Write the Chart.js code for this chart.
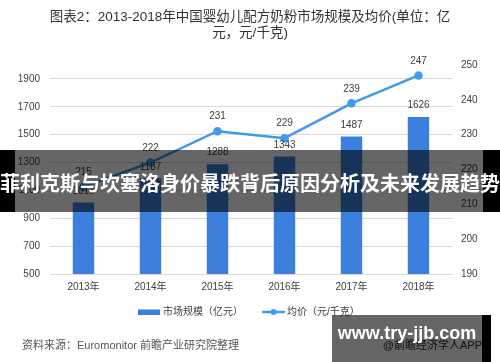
<!DOCTYPE html>
<html><head><meta charset="utf-8">
<script src="https://cdn.jsdelivr.net/npm/chart.js@4"></script>
<style>
html,body{margin:0;padding:0;background:#fff;}
#wrap{position:relative;width:500px;height:362px;overflow:hidden;font-family:"Liberation Sans","Noto Sans CJK SC",sans-serif;}
canvas{position:absolute;left:0;top:0;}
#title{position:absolute;left:0;top:9px;width:500px;text-align:center;font-size:13.5px;line-height:16px;color:#333;}
#footer{position:absolute;left:22px;top:338px;font-size:11px;line-height:14px;color:#555;white-space:nowrap;}
.blk{position:absolute;background:#000;}
.dim{position:absolute;background:rgba(0,0,0,0.6);}
#bannerText{position:absolute;left:0;top:150px;width:500px;height:62px;line-height:62px;padding-top:2px;text-align:center;color:#fff;font-weight:bold;font-size:20px;white-space:nowrap;font-family:"Noto Sans CJK SC",sans-serif;}
#wmSub{position:absolute;left:332px;top:338px;width:150px;text-align:right;font-size:11px;line-height:14px;color:#2a2a2a;white-space:nowrap;}
#wmText{position:absolute;left:332px;top:322px;width:150px;text-align:center;font-size:18px;line-height:22px;font-weight:bold;color:#fff;white-space:nowrap;font-family:"Liberation Sans",sans-serif;}
</style>
</head><body>
<div id="wrap">
<canvas id="c" width="500" height="362"></canvas>
<div id="title">图表2：2013-2018年中国婴幼儿配方奶粉市场规模及均价(单位：亿<br>元，元/千克)</div>
<div id="footer">资料来源：Euromonitor 前瞻产业研究院整理</div>
<div class="blk" style="left:0;top:150px;width:15px;height:62px;"></div>
<div class="dim" style="left:15px;top:150px;width:468px;height:62px;"></div>
<div class="blk" style="left:483px;top:150px;width:17px;height:62px;"></div>
<div id="bannerText">菲利克斯与坎塞洛身价暴跌背后原因分析及未来发展趋势</div>
<div id="wmSub">@前瞻经济学人APP</div>
<div class="dim" style="left:332px;top:315px;width:150px;height:47px;"></div>
<div class="blk" style="left:482px;top:315px;width:9px;height:47px;"></div>
<div id="wmText">www.try-jjb.com</div>
</div>
<script>
const categories = ['2013年','2014年','2015年','2016年','2017年','2018年'];
const marketSize = [1013, 1187, 1288, 1343, 1487, 1626];
const avgPrice = [215, 222, 231, 229, 239, 247];
const leftTicks = [500, 700, 900, 1100, 1300, 1500, 1700, 1900];
const rightTicks = [190, 200, 210, 220, 230, 240, 250];
const seriesNames = ['市场规模（亿元）', '均价（元/千克）'];

const FAM = '"Liberation Sans","Noto Sans CJK SC",sans-serif';
const barColor = '#3c7fdc';
const lineColor = '#3e9bec';
const textColor = '#404040';

const labelPlugin = {
  id: 'valueLabels',
  afterDatasetsDraw(chart) {
    const ctx = chart.ctx;
    ctx.save();
    ctx.font = '10px ' + FAM;
    ctx.fillStyle = textColor;
    ctx.textAlign = 'center';
    ctx.textBaseline = 'middle';
    chart.data.datasets.forEach((ds, di) => {
      const meta = chart.getDatasetMeta(di);
      meta.data.forEach((el, i) => {
        const off = ds.type === 'line' ? 14.5 : 11.5;
        ctx.fillText(String(ds.data[i]), el.x, el.y - off);
      });
    });
    ctx.restore();
  }
};

const legendPlugin = {
  id: 'customLegend',
  afterDraw(chart) {
    const ctx = chart.ctx;
    ctx.save();
    ctx.font = '10px ' + FAM;
    ctx.fillStyle = textColor;
    ctx.textBaseline = 'middle';
    const y = 312.5;
    ctx.fillStyle = barColor;
    ctx.fillRect(138, 309.5, 22, 5.5);
    ctx.fillStyle = textColor;
    ctx.fillText(chart.data.datasets[1].label, 163, y);
    ctx.strokeStyle = lineColor;
    ctx.lineWidth = 2.5;
    ctx.beginPath(); ctx.moveTo(262, 312); ctx.lineTo(285, 312); ctx.stroke();
    ctx.fillStyle = lineColor;
    ctx.beginPath(); ctx.arc(273.5, 312, 3, 0, Math.PI * 2); ctx.fill();
    ctx.fillStyle = textColor;
    ctx.fillText(chart.data.datasets[0].label, 287, y);
    ctx.restore();
  }
};

const plain = v => String(v);

new Chart(document.getElementById('c'), {
  type: 'bar',
  data: {
    labels: categories,
    datasets: [
      { type: 'line', label: seriesNames[1], data: avgPrice, yAxisID: 'y1',
        borderColor: lineColor, backgroundColor: lineColor, borderWidth: 2.5,
        pointRadius: 3, pointHoverRadius: 3, tension: 0, order: 0 },
      { type: 'bar', label: seriesNames[0], data: marketSize, yAxisID: 'y',
        backgroundColor: barColor, barPercentage: 0.32, categoryPercentage: 1, order: 1 }
    ]
  },
  options: {
    responsive: false, animation: false, devicePixelRatio: 1,
    layout: { padding: { top: 65, left: 0, right: 0, bottom: 0 } },
    plugins: { legend: { display: false }, title: { display: false }, tooltip: { enabled: false } },
    scales: {
      x: {
        grid: { display: false, drawTicks: false }, border: { display: false },
        ticks: { padding: 7, color: textColor, font: { size: 10, family: FAM } },
        afterFit(s) { s.height = 88; }
      },
      y: {
        position: 'left', min: 500, max: 2000,
        afterBuildTicks(s) { s.ticks = leftTicks.map(v => ({ value: v })); },
        grid: { color: '#d9d9d9', lineWidth: 1, drawTicks: false }, border: { display: false },
        ticks: { padding: 10, color: textColor, font: { size: 10, family: FAM }, callback: plain },
        afterFit(s) { s.width = 50; }
      },
      y1: {
        position: 'right', min: 190, max: 250,
        afterBuildTicks(s) { s.ticks = rightTicks.map(v => ({ value: v })); },
        grid: { display: false, drawTicks: false }, border: { display: false },
        ticks: { padding: 9, color: textColor, font: { size: 10, family: FAM }, callback: plain },
        afterFit(s) { s.width = 48; }
      }
    }
  },
  plugins: [labelPlugin, legendPlugin]
});
</script>
</body></html>
